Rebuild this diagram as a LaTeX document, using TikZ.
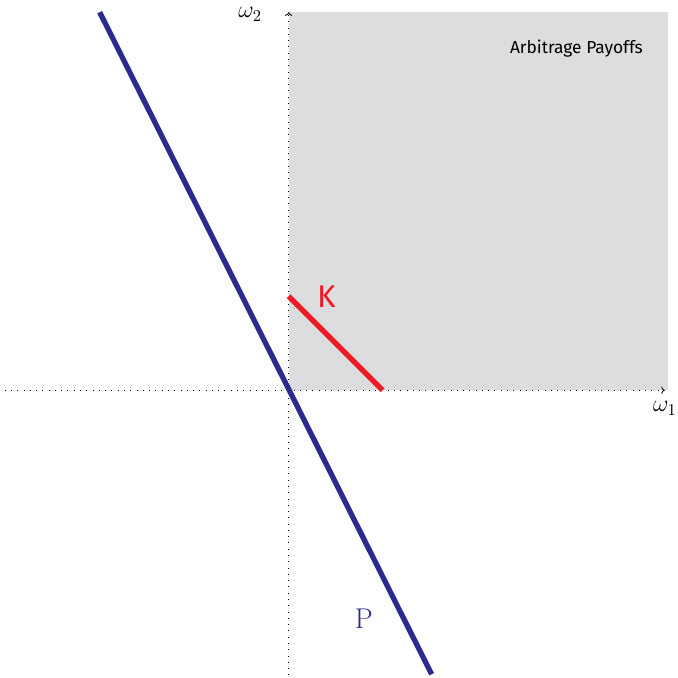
\documentclass[tikz,border=0pt]{standalone}
\usepackage{fontspec}
\usetikzlibrary{arrows.meta}
\newfontfamily\labelfont{Fira Sans}
\begin{document}
\begin{tikzpicture}[x=2cm, y=2cm]
    % Define axis limits
    \def\axisMin{-3}
    \def\axisMax{4}

    \definecolor{payoffGray}{HTML}{DCDDDE}
    \definecolor{priceBlue}{HTML}{2B2B8F}
    \definecolor{claimRed}{HTML}{ED1C24}

    \tikzset{
        axisline/.style={dash pattern=on 0.5pt off 3.3pt, line width=0.5pt, -{To[length=2.2pt,width=4.4pt]}},
        thickline/.style={line width=3.2pt}
    }

    \useasboundingbox (-3.07,-3.05) rectangle (4.14,4.15);

    % Arbitrage region
    \fill[payoffGray] (0,0) rectangle (\axisMax+0.03,\axisMax+0.02);
    \node[font=\labelfont\fontsize{10.5}{12}\selectfont] (arb) at (3.06,3.63) {Arbitrage Payoffs};

    % Draw axes
    \coordinate (xstart) at (\axisMin-0.02,0);
    \coordinate (xend) at (\axisMax,0);
    \coordinate (ystart) at (0,\axisMin-0.03);
    \coordinate (yend) at (0,\axisMax+0.02);
    \draw[axisline] (xstart) -- (xend);
    \draw[axisline] (ystart) -- (yend);
    \node[font=\Large] (w1) at (4.0,-0.19) {$\omega_1$};
    \node[font=\Large] (w2) at (-0.41,4.0) {$\omega_2$};

    % Line P through the origin
    \coordinate (P1) at (-2.01,4.02);
    \coordinate (P2) at (1.52,-3.02);
    \draw[priceBlue, thickline] (P1) -- (P2);
    \node[priceBlue, font=\LARGE] (P) at (0.80,-2.43) {P};

    % Segment K
    \coordinate (K1) at (0,1);
    \coordinate (K2) at (1,0);
    \draw[claimRed, thickline] (K1) -- (K2);
    \node[claimRed, font=\labelfont\fontsize{19}{22}\selectfont] (K) at (0.40,0.99) {K};

\end{tikzpicture}
\end{document}
